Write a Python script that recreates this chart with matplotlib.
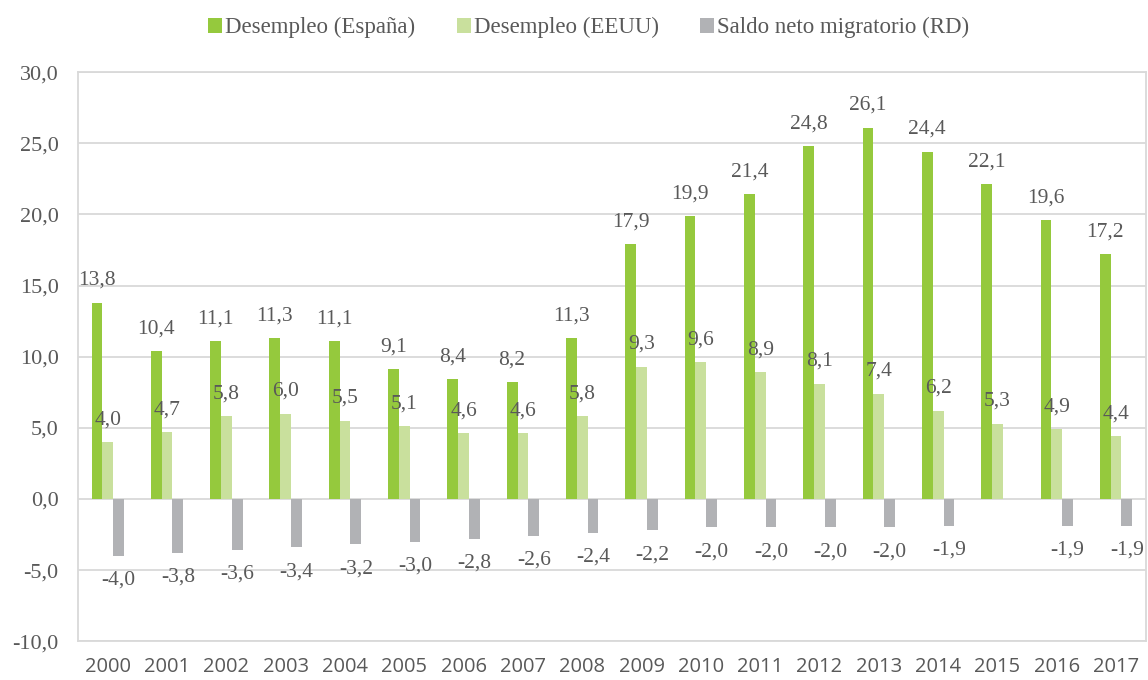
import matplotlib.pyplot as plt
import numpy as np

# ── data ──────────────────────────────────────────────────────────────────────
years = ["2000", "2001", "2002", "2003", "2004", "2005", "2006", "2007", "2008",
         "2009", "2010", "2011", "2012", "2013", "2014", "2015", "2016", "2017"]
desempleo_espana = [13.8, 10.4, 11.1, 11.3, 11.1, 9.1, 8.4, 8.2, 11.3,
                    17.9, 19.9, 21.4, 24.8, 26.1, 24.4, 22.1, 19.6, 17.2]
desempleo_eeuu = [4.0, 4.7, 5.8, 6.0, 5.5, 5.1, 4.6, 4.6, 5.8,
                  9.3, 9.6, 8.9, 8.1, 7.4, 6.2, 5.3, 4.9, 4.4]
saldo_migratorio = [-4.0, -3.8, -3.6, -3.4, -3.2, -3.0, -2.8, -2.6, -2.4,
                    -2.2, -2.0, -2.0, -2.0, -2.0, -1.9, np.nan, -1.9, -1.9]

series_names = ["Desempleo (España)", "Desempleo (EEUU)", "Saldo neto migratorio (RD)"]
colors = ["#95C93D", "#C9E09D", "#B1B2B5"]
text_color = "#595959"
grid_color = "#D9D9D9"
serif = "Liberation Serif"

fig = plt.figure(figsize=(11.48, 6.8), dpi=100)
ax = fig.add_axes([0.068, 0.057, 0.930, 0.837])

x = np.arange(len(years))
width = 0.182
all_series = [desempleo_espana, desempleo_eeuu, saldo_migratorio]

for i, (vals, name, col) in enumerate(zip(all_series, series_names, colors)):
    pos = x + (i - 1) * width
    ax.bar(pos, vals, width=width, color=col, label=name, zorder=3)
    # value labels: above positive bars, below negative ones, comma decimals
    for xp, v in zip(pos, vals):
        if np.isnan(v):
            continue
        off = 16 if v >= 0 else -17.5
        ax.annotate(f"{v:.1f}".replace(".", ","), (xp, v),
                    xytext=(0, off), textcoords="offset points",
                    ha="center", va="center", fontsize=15.5,
                    family=serif, color=text_color, zorder=4)

ax.set_xlim(-0.5, len(years) - 0.5)
ax.set_ylim(-10, 30)
yticks = np.arange(-10, 31, 5)
ax.set_yticks(yticks)
ax.set_yticklabels([f"{t:.1f}".replace(".", ",") for t in yticks],
                   family=serif, fontsize=16, color=text_color)
ax.set_xticks(x)
ax.set_xticklabels(years, family="Open Sans", fontsize=14.5, color=text_color)
ax.tick_params(axis="both", length=0)
ax.tick_params(axis="y", pad=14)
ax.tick_params(axis="x", pad=11)

ax.grid(axis="y", color=grid_color, linewidth=1.3, zorder=0)
for sp in ax.spines.values():
    sp.set_color(grid_color)
    sp.set_linewidth(1.3)

leg = fig.legend(loc="upper center", bbox_to_anchor=(0.513, 1.005), ncol=3,
                 frameon=False, prop={"family": serif, "size": 16.5},
                 handlelength=0.6, handleheight=0.6, handletextpad=0.15,
                 columnspacing=1.8)
for t in leg.get_texts():
    t.set_color(text_color)

fig.savefig("out.png", dpi=100)
